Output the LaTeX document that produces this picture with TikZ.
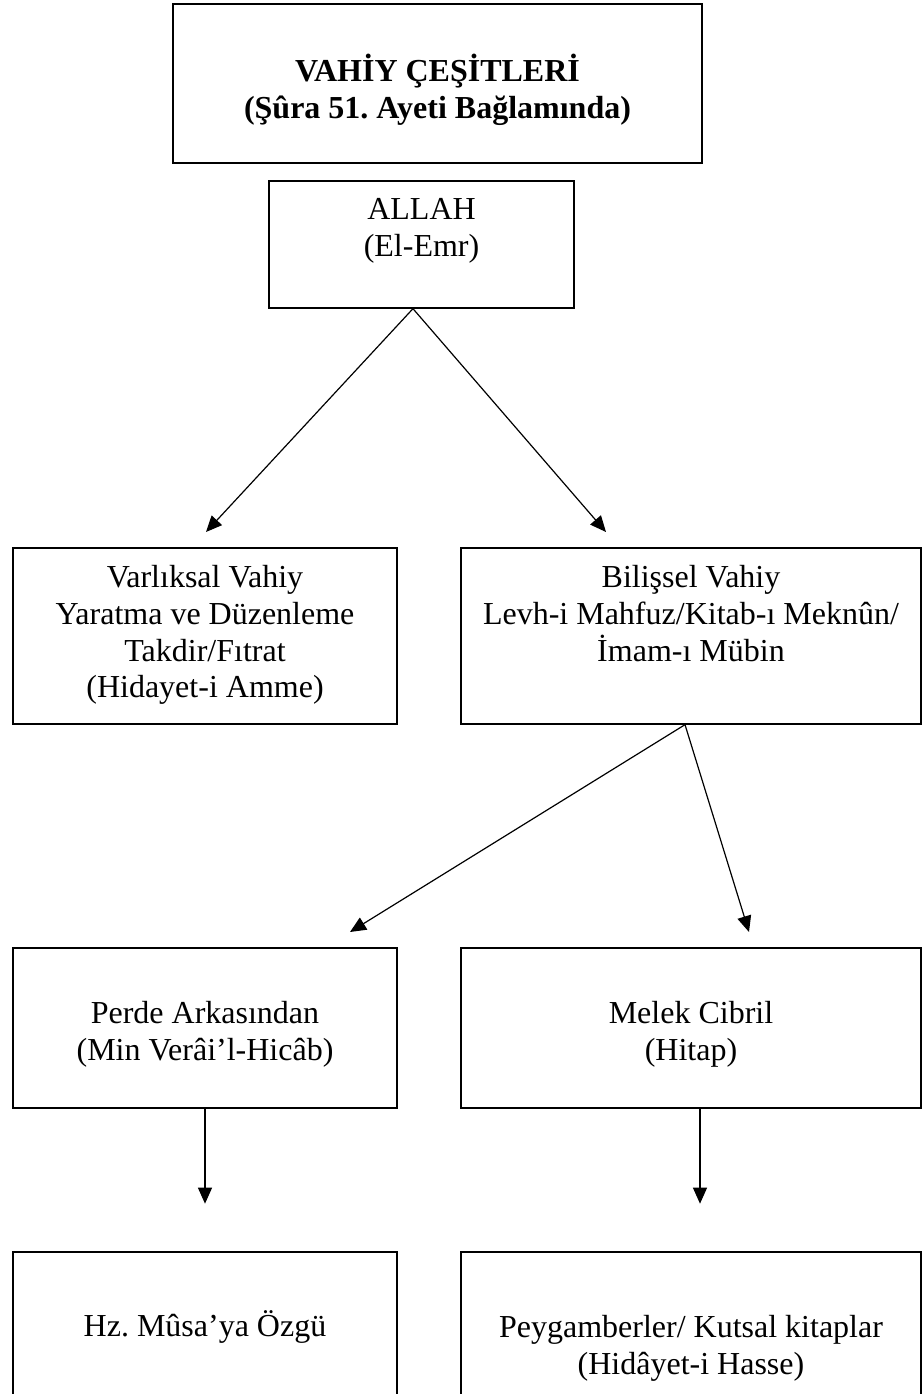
\documentclass[tikz,border=0pt]{standalone}
\usepackage{fontspec}
\setmainfont{Liberation Serif}
\frenchspacing
\usetikzlibrary{
    positioning,
    arrows.meta
}

\begin{document}
\begin{tikzpicture}[
    x=0.75pt, y=-0.75pt,
    box/.style={
        rectangle,
        draw,
        line width=1pt,
        inner sep=0pt
    },
    wide/.style={box, minimum width=345pt},
    narrow/.style={box, minimum width=288pt},
    txt/.style={
        font=\fontsize{24}{27.5}\selectfont,
        align=center,
        inner sep=0pt,
        anchor=north
    },
    arrow/.style={-{Triangle[length=12pt,width=10.5pt]}, line width=0.9pt}
]
\useasboundingbox (0,0) rectangle (923,1394);

% ---------- Boxes (top to bottom) ----------
\node[box, minimum width=396.75pt, minimum height=119.25pt] (title) at (437.5,83.5) {};
\node[box, minimum width=228.75pt, minimum height=95.25pt] (allah) at (421.5,244.5) {};

\node[narrow, minimum height=132pt] (varlik) at (205,636) {};
\node[wide, minimum height=132pt] (bilis) at (691,636) {};

\node[narrow, minimum height=120pt] (perde) at (205,1028) {};
\node[wide, minimum height=120pt] (melek) at (691,1028) {};

\node[narrow, minimum height=111pt] (musa) at (205,1326) {};
\node[wide, minimum height=111pt] (peygamber) at (691,1326) {};

% ---------- Texts ----------
\node[txt, font=\fontsize{24}{27.75}\selectfont\bfseries, below=37.5pt of title.north] (titletxt)
    {VAHİY ÇEŞİTLERİ\\(Şûra 51. Ayeti Bağlamında)};
\node[txt, below=13.5pt of allah.north] (allahtxt) {ALLAH\\(El-Emr)};
\node[txt, below=13.5pt of varlik.north] (varliktxt)
    {Varlıksal Vahiy\\Yaratma ve Düzenleme\\Takdir/Fıtrat\\(Hidayet-i Amme)};
\node[txt, below=13.5pt of bilis.north] (bilistxt)
    {Bilişsel Vahiy\\Levh-i Mahfuz/Kitab-ı Meknûn/\\İmam-ı Mübin};
\node[txt, below=40.5pt of perde.north] (perdetxt) {Perde Arkasından\\(Min Verâi’l-Hicâb)};
\node[txt, below=40.5pt of melek.north] (melektxt) {Melek Cibril\\(Hitap)};
\node[txt, below=44.25pt of musa.north] (musatxt) {Hz. Mûsa’ya Özgü};
\node[txt, below=48pt of peygamber.north] (peygambertxt)
    {Peygamberler/ Kutsal kitaplar\\(Hidâyet-i Hasse)};

% ---------- Arrow ends ----------
\coordinate (varliktip) at (206,532);
\coordinate (bilistip) at (606,532);
\coordinate (perdetip) at (350,932);
\coordinate (melektip) at (749,932);

% ---------- Arrows ----------
\draw[arrow] ([xshift=-6.4pt]allah.south) -- (varliktip);
\draw[arrow] ([xshift=-6.4pt]allah.south) -- (bilistip);
\draw[arrow] ([xshift=-4.5pt]bilis.south) -- (perdetip);
\draw[arrow] ([xshift=-4.5pt]bilis.south) -- (melektip);
\draw[arrow] (perde.south) -- ++(0,95);
\draw[arrow] ([xshift=6.75pt]melek.south) -- ++(0,95);

\end{tikzpicture}
\end{document}
